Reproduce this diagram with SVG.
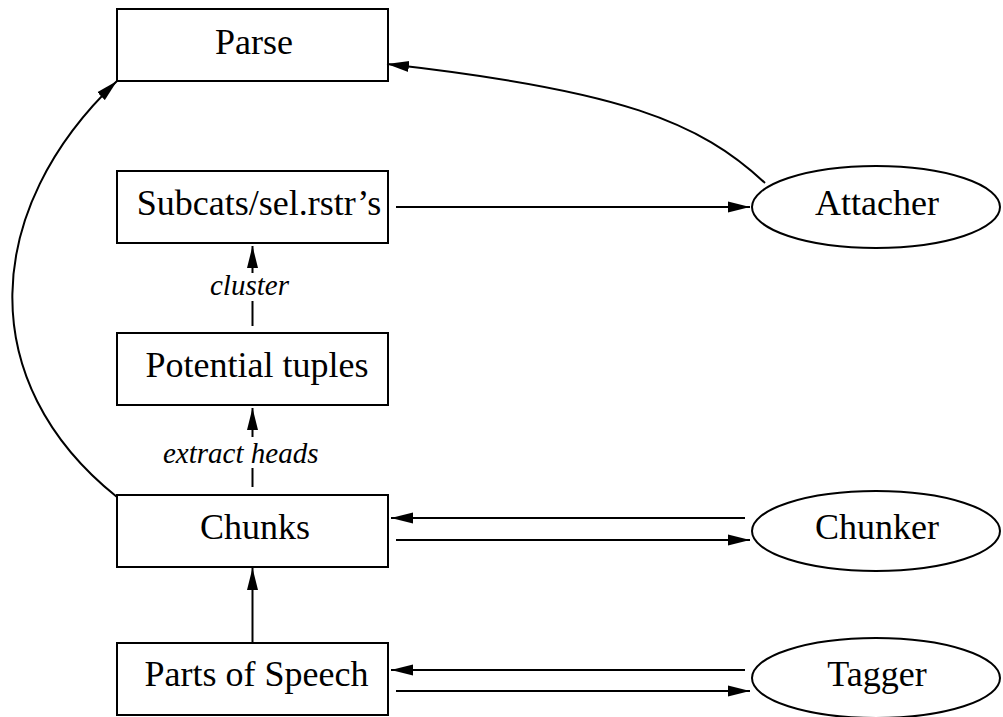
<svg xmlns="http://www.w3.org/2000/svg" width="1003" height="717" viewBox="0 0 1003 717">
  <style>
    .box { fill: #ffffff; stroke: #000000; stroke-width: 2; }
    .oval { fill: #ffffff; stroke: #000000; stroke-width: 2; }
    .name { font-family: "Liberation Serif", "Times New Roman", serif; font-size: 36px; fill: #000000; text-anchor: middle; }
    .tag { font-family: "Liberation Serif", "Times New Roman", serif; font-size: 29px; font-style: italic; fill: #000000; }
    .edge { fill: none; stroke: #000000; stroke-width: 2; marker-end: url(#head); }
  </style>
  <defs>
    <marker id="head" markerUnits="userSpaceOnUse" markerWidth="22" markerHeight="12" refX="22" refY="6" orient="auto">
      <path d="M0,0.5 L22,6 L0,11.5 Z" fill="#000000"/>
    </marker>
  </defs>

  <rect width="1003" height="717" fill="#ffffff"/>

  <!-- data stages -->
  <g id="parse">
    <rect class="box" x="117" y="9" width="271" height="72"/>
    <text class="name" x="254" y="54">Parse</text>
  </g>
  <g id="subcats">
    <rect class="box" x="117" y="171" width="271" height="72"/>
    <text class="name" x="259" y="215">Subcats/sel.rstr’s</text>
  </g>
  <g id="potential-tuples">
    <rect class="box" x="117" y="333" width="271" height="72"/>
    <text class="name" x="257" y="377">Potential tuples</text>
  </g>
  <g id="chunks">
    <rect class="box" x="117" y="495" width="271" height="72"/>
    <text class="name" x="255" y="539">Chunks</text>
  </g>
  <g id="parts-of-speech">
    <rect class="box" x="117" y="643" width="271" height="72"/>
    <text class="name" x="256.5" y="686">Parts of Speech</text>
  </g>

  <!-- processing modules -->
  <g id="attacher">
    <ellipse class="oval" cx="876" cy="207" rx="124" ry="41"/>
    <text class="name" x="877" y="215">Attacher</text>
  </g>
  <g id="chunker">
    <ellipse class="oval" cx="876" cy="531" rx="124" ry="40"/>
    <text class="name" x="877" y="539">Chunker</text>
  </g>
  <g id="tagger">
    <ellipse class="oval" cx="876" cy="678" rx="124" ry="40"/>
    <text class="name" x="877" y="686">Tagger</text>
  </g>

  <!-- connectors -->
  <g id="connectors">
    <path class="edge" d="M765,183 C700,122 620,90 387,64"/>
    <path class="edge" d="M117,497 C-27,382 -18,209 117,81"/>
    <path class="edge" d="M396,207 L750,207"/>
    <path class="edge" d="M252.5,326 L252.5,301 M252.5,273 L252.5,246"/>
    <text class="tag" x="210" y="295">cluster</text>
    <path class="edge" d="M252.5,487 L252.5,468 M252.5,437 L252.5,408"/>
    <text class="tag" x="163" y="463">extract heads</text>
    <path class="edge" d="M252.5,643 L252.5,568"/>
    <path class="edge" d="M745,518 L391,518"/>
    <path class="edge" d="M396,540 L750,540"/>
    <path class="edge" d="M745,670 L391,670"/>
    <path class="edge" d="M396,691 L750,691"/>
  </g>
</svg>
